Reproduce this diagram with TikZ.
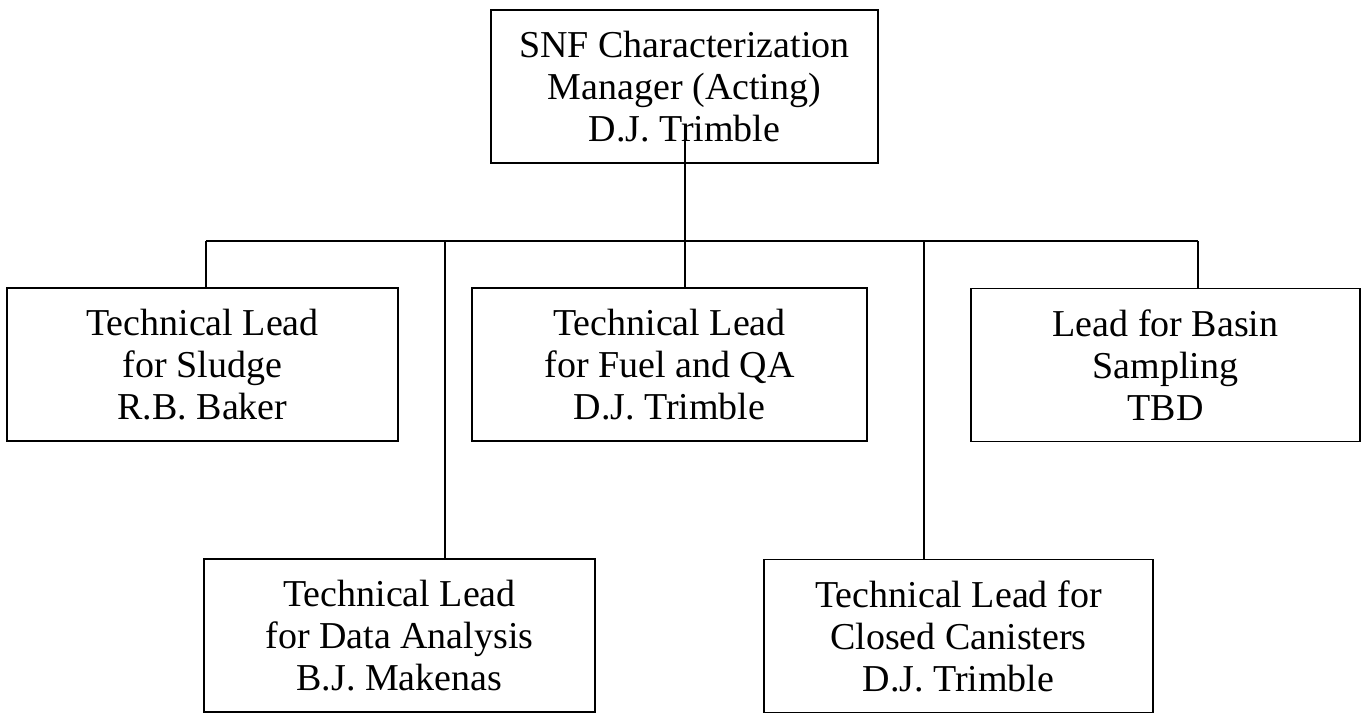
\documentclass[tikz,border=0pt]{standalone}
\usepackage{fontspec}
\setmainfont{Liberation Serif}
\begin{document}
\begin{tikzpicture}[x=1pt,y=-1pt,
  orgbox/.style={draw, line width=1.6pt, rectangle, inner sep=0pt, align=center,
    minimum height=153pt, font=\fontsize{38}{42}\selectfont},
  link/.style={line width=1.6pt}]
\useasboundingbox (0,0) rectangle (1363,713);
\node[orgbox, minimum width=387pt] (top) at (684.5,86.5) {SNF Characterization\\Manager (Acting)\\D.J. Trimble};
\node[orgbox, minimum width=391pt] (b1) at (202.5,364.5) {Technical Lead\\for Sludge\\R.B. Baker};
\node[orgbox, minimum width=395pt] (b2) at (669.5,364.5) {Technical Lead\\for Fuel and QA\\D.J. Trimble};
\node[orgbox, minimum width=389pt] (b3) at (1165.5,365) {Lead for Basin\\Sampling\\TBD};
\node[orgbox, minimum width=391pt] (b4) at (399.5,635.5) {Technical Lead\\for Data Analysis\\B.J. Makenas};
\node[orgbox, minimum width=389pt] (b5) at (958.5,636) {Technical Lead for\\Closed Canisters\\D.J. Trimble};
\coordinate (t0) at (685,140);
\coordinate (j1) at (206,241);
\coordinate (j2) at (445,241);
\coordinate (j3) at (685,241);
\coordinate (j4) at (924,241);
\coordinate (j5) at (1198,241);
\draw[link] (j1) -- (j5);
\draw[link] (t0) -- (j3) -- (j3 |- b2.north);
\draw[link] (j1) -- (j1 |- b1.north);
\draw[link] (j2) -- (j2 |- b4.north);
\draw[link] (j4) -- (j4 |- b5.north);
\draw[link] (j5) -- (j5 |- b3.north);
\end{tikzpicture}
\end{document}
